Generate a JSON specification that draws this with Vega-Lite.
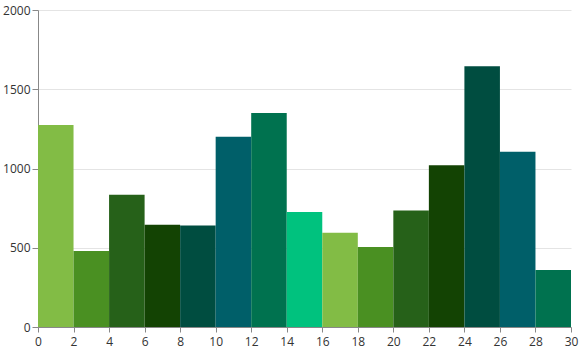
{
  "$schema": "https://vega.github.io/schema/vega-lite/v6.json",
  "width": 533,
  "height": 317,
  "autosize": {"type": "none"},
  "padding": {"left": 38, "top": 10, "right": 10, "bottom": 27},
  "background": "white",
  "config": {
    "view": {"stroke": null},
    "font": "Open Sans",
    "axis": {"labelFont": "Open Sans", "labelFontSize": 12, "labelColor": "#333333"}
  },
  "data": {
    "values": [
      {"start": 0, "end": 2, "value": 1275, "k": "a"},
      {"start": 2, "end": 4, "value": 480, "k": "b"},
      {"start": 4, "end": 6, "value": 835, "k": "c"},
      {"start": 6, "end": 8, "value": 645, "k": "d"},
      {"start": 8, "end": 10, "value": 640, "k": "e"},
      {"start": 10, "end": 12, "value": 1200, "k": "f"},
      {"start": 12, "end": 14, "value": 1350, "k": "g"},
      {"start": 14, "end": 16, "value": 725, "k": "h"},
      {"start": 16, "end": 18, "value": 595, "k": "a2"},
      {"start": 18, "end": 20, "value": 505, "k": "b2"},
      {"start": 20, "end": 22, "value": 735, "k": "c2"},
      {"start": 22, "end": 24, "value": 1020, "k": "d2"},
      {"start": 24, "end": 26, "value": 1645, "k": "e2"},
      {"start": 26, "end": 28, "value": 1105, "k": "f2"},
      {"start": 28, "end": 30, "value": 360, "k": "g2"}
    ]
  },
  "mark": {"type": "rect"},
  "encoding": {
    "x": {
      "field": "start", "type": "quantitative",
      "scale": {"domain": [0, 30], "nice": false, "zero": false},
      "axis": {"title": null, "values": [0,2,4,6,8,10,12,14,16,18,20,22,24,26,28,30], "grid": false, "domainColor": "#888888", "tickColor": "#888888", "tickSize": 5, "labelPadding": 4, "labelFlush": false, "format": "d"}
    },
    "x2": {"field": "end"},
    "y": {
      "field": "value", "type": "quantitative",
      "scale": {"domain": [0, 2000], "nice": false},
      "axis": {"title": null, "values": [0, 500, 1000, 1500, 2000], "format": "d", "grid": true, "gridColor": "#e4e4e4", "domainColor": "#888888", "tickColor": "#888888", "tickSize": 6, "labelPadding": 2}
    },
    "color": {
      "field": "k", "type": "nominal", "legend": null,
      "scale": {
        "domain": ["a","b","c","d","e","f","g","h","a2","b2","c2","d2","e2","f2","g2"],
        "range": ["#82bc45","#4a9022","#266119","#134303","#004d40","#005f69","#00724f","#00c27e","#82bc45","#4a9022","#266119","#134303","#004d40","#005f69","#00724f"]
      }
    }
  }
}
